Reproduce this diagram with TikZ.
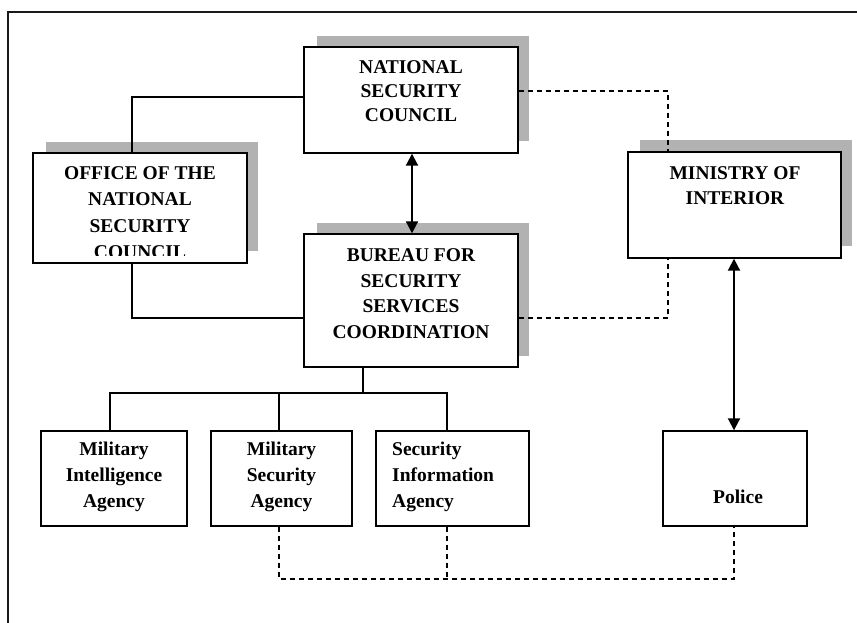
\documentclass[tikz,border=0pt]{standalone}
\usepackage{fontspec}
\setmainfont{Liberation Serif}
\usetikzlibrary{arrows.meta}
\definecolor{shadowgray}{RGB}{178,178,178}
\begin{document}
\begin{tikzpicture}[x=1pt,y=-1pt,
  box/.style={draw=black,line width=1.4pt,fill=white,inner sep=0pt},
  shade/.style={fill=shadowgray,draw=none},
  lbl/.style={font=\bfseries\fontsize{19.5}{25}\selectfont,align=center,inner sep=0pt},
  link/.style={line width=1.4pt},
  dlink/.style={line width=1.3pt,dash pattern=on 5pt off 4pt},
  twoway/.style={line width=2pt,arrows={Triangle[length=12pt,width=12pt]-Triangle[length=12pt,width=12pt]}},
  frameline/.style={line width=1.8pt,black!90}]
\useasboundingbox (0,0) rectangle (857,623);

% page frame (top and left edges only)
\coordinate (fl) at (8,12);
\coordinate (fr) at (857,12);
\coordinate (fb) at (8,623);
\draw[frameline] (fb) -- (fl) -- (fr);

% drop shadows of the upper boxes
\fill[shade] (317,36) rectangle (529,141);
\fill[shade] (46,142) rectangle (258,251);
\fill[shade] (317,223) rectangle (529,356);
\fill[shade] (640,140) rectangle (852,246);

% boxes
\node[box,minimum width=214pt,minimum height=106pt] (nsc) at (411,100) {};
\node[box,minimum width=214pt,minimum height=110pt] (office) at (140,208) {};
\node[box,minimum width=214pt,minimum height=133pt] (bureau) at (411,300.5) {};
\node[box,minimum width=213pt,minimum height=106pt] (ministry) at (734.5,205) {};
\node[box,minimum width=146pt,minimum height=95pt] (mia) at (114,478.5) {};
\node[box,minimum width=141pt,minimum height=95pt] (msa) at (281.5,478.5) {};
\node[box,minimum width=153pt,minimum height=95pt] (sia) at (452.5,478.5) {};
\node[box,minimum width=144pt,minimum height=95pt] (police) at (735,478.5) {};

% box texts
\node[lbl,font=\bfseries\fontsize{19.5}{24}\selectfont] (nsct) at (411,91) {NATIONAL\\SECURITY\\COUNCIL};
\begin{scope}
  \clip (33,153) rectangle (247,255);
  \node[lbl,font=\bfseries\fontsize{19.5}{26.5}\selectfont] (officet) at (140,212.5) {OFFICE OF THE\\NATIONAL\\SECURITY\\COUNCIL};
\end{scope}
\node[lbl,font=\bfseries\fontsize{19.5}{25.7}\selectfont] (bureaut) at (411,293.5) {BUREAU FOR\\SECURITY\\SERVICES\\COORDINATION};
\node[lbl] (ministryt) at (735,185.5) {MINISTRY OF\\INTERIOR};
\node[lbl,font=\bfseries\fontsize{19.5}{26}\selectfont] (miat) at (114,477) {Military\\Intelligence\\Agency};
\node[lbl,font=\bfseries\fontsize{19.5}{26}\selectfont] (msat) at (281.5,477) {Military\\Security\\Agency};
\node[lbl,font=\bfseries\fontsize{19.5}{26}\selectfont,align=left,anchor=west] (siat) at (392,477) {Security\\Information\\Agency};
\node[lbl] (policet) at (738,497) {Police};

% solid links of the office of the council
\coordinate (ja) at (132,97);
\coordinate (jb) at (132,318);
\draw[link] (office.north -| ja) -- (ja) -- (nsc.west |- ja);
\draw[link] (office.south -| jb) -- (jb) -- (bureau.west |- jb);

% two-way links
\coordinate (va) at (412,0);
\coordinate (vb) at (734,0);
\draw[twoway] (nsc.south -| va) -- (bureau.north -| va);
\draw[twoway] (ministry.south -| vb) -- (police.north -| vb);

% dashed links to the ministry
\coordinate (da) at (668,91);
\coordinate (db) at (668,318);
\draw[dlink] (nsc.east |- da) -- (da) -- (ministry.north -| da);
\draw[dlink] (bureau.east |- db) -- (db) -- (ministry.south -| db);

% bureau branches to the agencies
\coordinate (tb) at (363,393);
\coordinate (t1) at (110,393);
\coordinate (t2) at (279,393);
\coordinate (t3) at (447,393);
\draw[link] (bureau.south -| tb) -- (tb);
\draw[link] (mia.north -| t1) -- (t1) -- (t3) -- (sia.north -| t3);
\draw[link] (t2) -- (msa.north -| t2);

% dashed links between the agencies and the police
\coordinate (u1) at (279,579);
\coordinate (u2) at (447,579);
\coordinate (u3) at (734,579);
\draw[dlink] (msa.south -| u1) -- (u1) -- (u3) -- (police.south -| u3);
\draw[dlink] (sia.south -| u2) -- (u2);
\end{tikzpicture}
\end{document}
